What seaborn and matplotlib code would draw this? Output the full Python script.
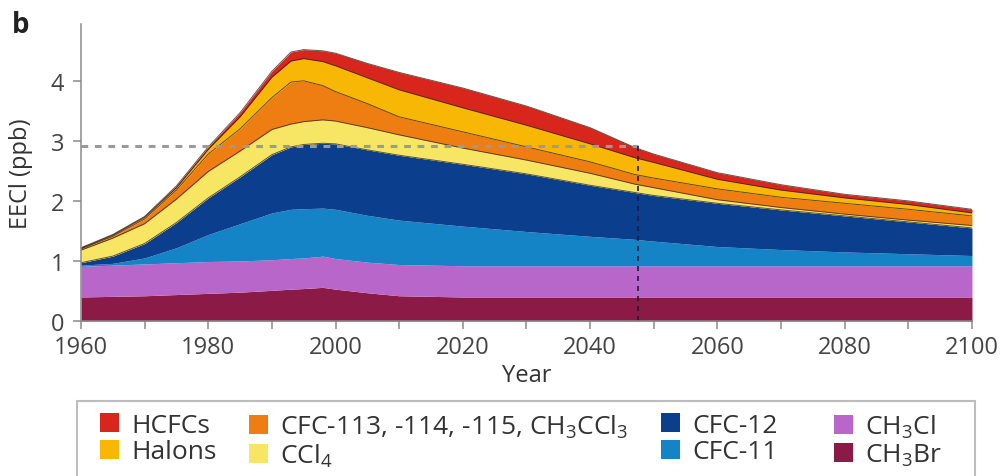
import numpy as np
import matplotlib
matplotlib.use("Agg")
import matplotlib.pyplot as plt
import seaborn as sns
from matplotlib.patches import Patch, Rectangle

# ── data (EECl contributions, ppb) ─────────────────────────
years  = [1960, 1965, 1970, 1975, 1980, 1985, 1990, 1993, 1995, 1998, 2000, 2005,
          2010, 2020, 2030, 2040, 2047, 2050, 2060, 2070, 2080, 2090, 2100]
ch3br  = [0.40, 0.41, 0.42, 0.44, 0.46, 0.48, 0.51, 0.53, 0.54, 0.56, 0.53, 0.47,
          0.42, 0.40, 0.40, 0.40, 0.40, 0.40, 0.40, 0.40, 0.40, 0.40, 0.40]
ch3cl  = [0.51, 0.52, 0.53, 0.53, 0.53, 0.52, 0.51, 0.51, 0.51, 0.52, 0.51, 0.51,
          0.52, 0.52, 0.52, 0.52, 0.52, 0.52, 0.52, 0.52, 0.52, 0.52, 0.52]
cfc11  = [0.02, 0.03, 0.10, 0.25, 0.45, 0.62, 0.78, 0.82, 0.82, 0.80, 0.82, 0.78,
          0.74, 0.66, 0.57, 0.49, 0.44, 0.41, 0.32, 0.27, 0.23, 0.20, 0.17]
cfc12  = [0.04, 0.12, 0.24, 0.42, 0.61, 0.78, 0.97, 1.04, 1.07, 1.08, 1.09, 1.09,
          1.08, 1.03, 0.96, 0.85, 0.78, 0.76, 0.72, 0.66, 0.60, 0.53, 0.46]
ccl4   = [0.21, 0.30, 0.33, 0.39, 0.44, 0.43, 0.42, 0.38, 0.38, 0.39, 0.38, 0.37,
          0.34, 0.27, 0.23, 0.20, 0.14, 0.13, 0.06, 0.04, 0.03, 0.03, 0.04]
cfc113 = [0.02, 0.03, 0.08, 0.15, 0.29, 0.37, 0.53, 0.70, 0.68, 0.57, 0.49, 0.40,
          0.30, 0.27, 0.22, 0.19, 0.16, 0.16, 0.18, 0.17, 0.18, 0.18, 0.16]
halons = [0.01, 0.02, 0.03, 0.04, 0.08, 0.20, 0.34, 0.35, 0.37, 0.40, 0.43, 0.43,
          0.45, 0.40, 0.36, 0.30, 0.28, 0.26, 0.16, 0.12, 0.09, 0.08, 0.05]
hcfcs  = [0.01, 0.01, 0.01, 0.03, 0.04, 0.07, 0.10, 0.15, 0.15, 0.18, 0.21, 0.24,
          0.29, 0.33, 0.32, 0.27, 0.17, 0.14, 0.11, 0.09, 0.06, 0.06, 0.06]

threshold = 2.92      # 1980 level
recovery_year = 2047.6

labels = ["CH$_3$Br", "CH$_3$Cl", "CFC-11", "CFC-12", "CCl$_4$",
          "CFC-113, -114, -115, CH$_3$CCl$_3$", "Halons", "HCFCs"]
colors = ["#8c1a46", "#b866c9", "#1584c6", "#0b3f8e", "#f7e564",
          "#ef7e12", "#f7b704", "#d9261c"]

# ── style ──────────────────────────────────────────────────
sns.set_style("ticks")
plt.rcParams["font.family"] = ["Open Sans", "DejaVu Sans"]
plt.rcParams["mathtext.fontset"] = "custom"
plt.rcParams["mathtext.rm"] = "Open Sans"
plt.rcParams["mathtext.it"] = "Open Sans"

fig = plt.figure(figsize=(10.07, 4.77), dpi=100)
ax = fig.add_axes([0.0804, 0.325, 0.8848, 0.623])

series = [ch3br, ch3cl, cfc11, cfc12, ccl4, cfc113, halons, hcfcs]
ax.stackplot(years, *series, colors=colors, linewidth=0)

# thin dark edges on the upper layers
tops = np.cumsum(np.array(series), axis=0)
for k in range(3, 8):
    ax.plot(years, tops[k], color="#2e2418", lw=0.7, alpha=0.75)

# 1980 level and the year it is reached again
ax.plot([1960, recovery_year], [threshold, threshold], color="#9a9a9a",
        lw=2.2, ls=(0, (2.2, 2.2)))
ax.plot([recovery_year, recovery_year], [0, threshold], color="#1c1c3a",
        lw=1.2, ls=(0, (3, 3)))

ax.set_xlim(1960, 2100)
ax.set_ylim(0, 4.95)
ax.set_xticks(range(1960, 2101, 10))
ax.set_xticklabels([str(y) if y % 20 == 0 else "" for y in range(1960, 2101, 10)])
ax.set_yticks([0, 1, 2, 3, 4])
ax.tick_params(axis="both", labelsize=17, colors="#444444", length=6, width=1.1,
               color="#8a8a8a")
ax.tick_params(axis="x", pad=4)
ax.tick_params(axis="y", pad=6)
for s in ["left", "bottom"]:
    ax.spines[s].set_color("#8a8a8a")
    ax.spines[s].set_linewidth(1.1)
sns.despine(ax=ax)

ax.set_xlabel("Year", fontsize=17, color="#333333")
ax.xaxis.set_label_coords(0.5, -0.14)
ax.set_ylabel("EECl (ppb)", fontsize=17, color="#333333")
ax.yaxis.set_label_coords(-0.054, 0.5)

fig.text(0.012, 0.93, "b", fontsize=20, fontweight="bold", color="#222222")

# legend: frame plus four hand-placed columns
fig.patches.append(Rectangle((77 / 1007, -0.02), 898 / 1007, 0.02 + 75 / 477,
                             transform=fig.transFigure, fill=False,
                             edgecolor="#bdbdbd", lw=1.5))
columns = [[7, 6], [5, 4], [3, 2], [1, 0]]
col_x = [100, 249, 661, 834]
for idx, x0 in zip(columns, col_x):
    handles = [Patch(facecolor=colors[i], edgecolor="none") for i in idx]
    leg = fig.legend(handles, [labels[i] for i in idx], loc="upper left",
                     bbox_to_anchor=(x0 / 1007, 1 - 414 / 477), fontsize=19,
                     frameon=False, handlelength=0.72, handleheight=0.72,
                     handletextpad=0.45, labelspacing=0.05, borderpad=0.0,
                     borderaxespad=0.0, labelcolor="#333333")

fig.savefig("out.png", dpi=100)
